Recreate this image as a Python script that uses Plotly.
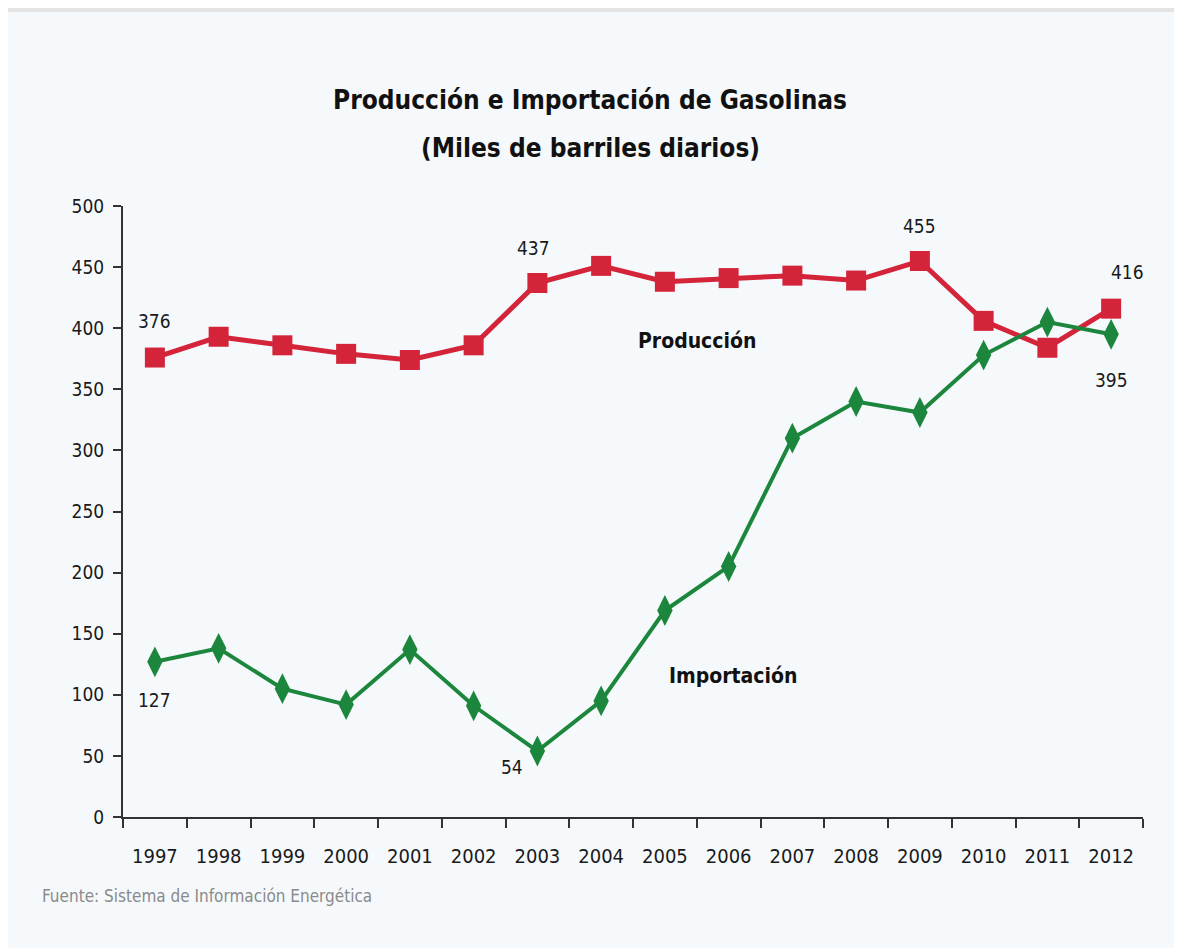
import plotly.graph_objects as go

years = ["1997", "1998", "1999", "2000", "2001", "2002", "2003", "2004",
         "2005", "2006", "2007", "2008", "2009", "2010", "2011", "2012"]
produccion = [376, 393, 386, 379, 374, 386, 437, 451, 438, 441, 443, 439, 455, 406, 384, 416]
importacion = [127, 138, 105, 92, 137, 91, 54, 95, 169, 205, 310, 340, 331, 378, 405, 395]

FONT = "DejaVu Sans Condensed, Liberation Sans Narrow, Arial Narrow, sans-serif"
RED = "#d4243a"
GREEN = "#1c863c"
BG = "#f5f9fc"

# the page body has an 8px margin; the figure is sized to fill the window
OFF = 8
W, H = 1182 - OFF, 948 - OFF
L, T = 123 - OFF, 206 - OFF
R = W - (1143 - OFF)
B = H - (817 - OFF)
pw, ph = W - L - R, H - T - B


def px(xw):
    return (xw - OFF - L) / pw


def py(yw):
    return (H - B - (yw - OFF)) / ph


fig = go.Figure()
fig.add_trace(go.Scatter(x=list(range(len(years))), y=produccion, mode="lines+markers",
                         name="Producción",
                         line=dict(color=RED, width=5),
                         marker=dict(symbol="square", size=20, color=RED)))
fig.add_trace(go.Scatter(x=list(range(len(years))), y=importacion, mode="lines+markers",
                         name="Importación",
                         line=dict(color=GREEN, width=4),
                         marker=dict(symbol="diamond-tall", size=22, color=GREEN)))

vfont = dict(size=19, color="#1a1a1a")
ann = []
# (index, value, xshift, yshift)
labels = [
    (0, produccion[0], 0, 37),
    (6, produccion[6], -4, 35),
    (12, produccion[12], 0, 35),
    (15, produccion[15], 16, 37),
    (15, importacion[15], 0, -46),
    (0, importacion[0], 0, -38),
    (6, importacion[6], -25, -16),
]
for i, v, xs, ys in labels:
    ann.append(dict(x=i, y=v, xref="x", yref="y", text=str(v), showarrow=False,
                    xshift=xs, yshift=ys, xanchor="center", yanchor="middle", font=vfont))

ann.append(dict(x=px(697), y=py(341), xref="paper", yref="paper", text="<b>Producción</b>",
                showarrow=False, xanchor="center", yanchor="middle",
                font=dict(size=21, color="#111")))
ann.append(dict(x=px(733), y=py(676), xref="paper", yref="paper", text="<b>Importación</b>",
                showarrow=False, xanchor="center", yanchor="middle",
                font=dict(size=21, color="#111")))
ann.append(dict(x=px(590), y=py(100), xref="paper", yref="paper",
                text="<b>Producción e Importación de Gasolinas</b>", showarrow=False,
                xanchor="center", yanchor="middle", font=dict(size=26, color="#111")))
ann.append(dict(x=px(590), y=py(148), xref="paper", yref="paper",
                text="<b>(Miles de barriles diarios)</b>", showarrow=False,
                xanchor="center", yanchor="middle", font=dict(size=26, color="#111")))
ann.append(dict(x=px(40), y=py(896), xref="paper", yref="paper", xanchor="left",
                yanchor="middle", text="Fuente: Sistema de Información Energética",
                showarrow=False, font=dict(size=17, color="#8a8a8a")))

shapes = [
    dict(type="rect", xref="paper", yref="paper", x0=px(0), x1=px(1182), y0=py(8), y1=py(12),
         fillcolor="#e4e4e4", line=dict(width=0), layer="below"),
    dict(type="rect", xref="paper", yref="paper", x0=px(1176), x1=px(1182), y0=py(8), y1=py(948),
         fillcolor="#eeeeee", line=dict(width=0), layer="below"),
]

fig.update_layout(
    width=W, height=H,
    margin=dict(l=L, r=R, t=T, b=B, pad=0),
    paper_bgcolor=BG, plot_bgcolor=BG,
    showlegend=False,
    font=dict(family=FONT, color="#1a1a1a"),
    annotations=ann,
    shapes=shapes,
    xaxis=dict(range=[-0.5, 15.5], tickmode="array", tickvals=list(range(len(years))),
               ticktext=years, ticks="", showline=True, linecolor="#333",
               linewidth=2, showgrid=False, zeroline=False, ticklabelstandoff=20,
               tickfont=dict(size=20, color="#1a1a1a"),
               minor=dict(tickmode="array",
                          tickvals=[i - 0.5 for i in range(len(years) + 1)],
                          ticks="outside", ticklen=9, tickwidth=2, tickcolor="#333",
                          showgrid=False)),
    yaxis=dict(range=[0, 500], dtick=50, ticks="outside", ticklen=8, tickwidth=2,
               tickcolor="#333", showline=True, linecolor="#333", linewidth=2,
               showgrid=False, zeroline=False, ticklabelstandoff=5,
               tickfont=dict(size=19, color="#1a1a1a")),
)

fig.write_html("out.html")
